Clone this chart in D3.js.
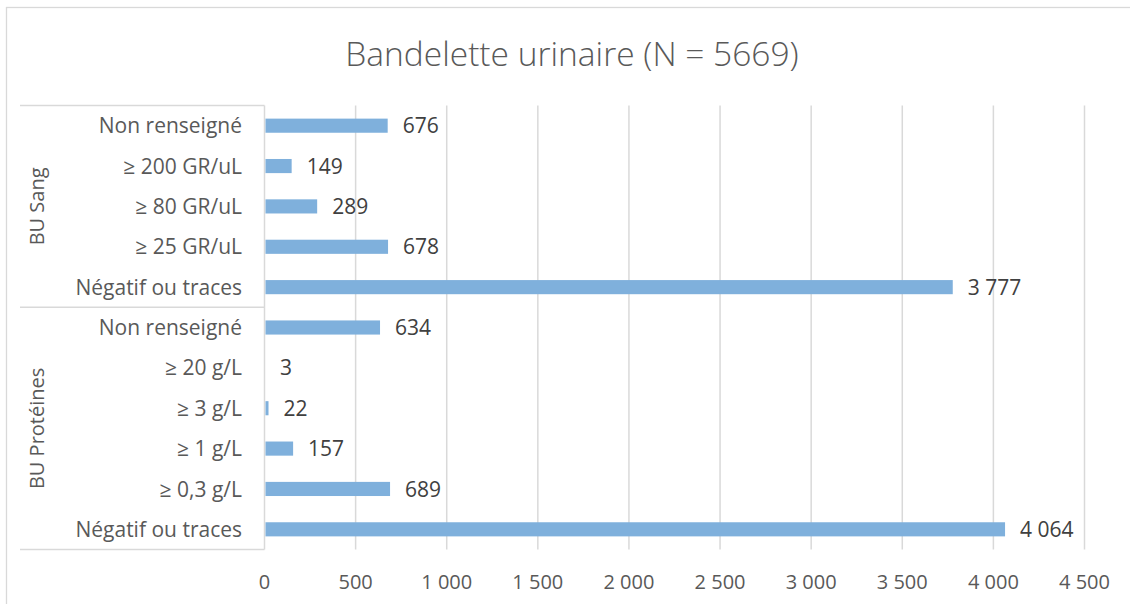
<!DOCTYPE html>
<html>
<head>
<meta charset="utf-8">
<script src="https://cdn.jsdelivr.net/npm/d3@7"></script>
<style>
  body { margin: 0; background: #fff; }
  text { font-family: "Open Sans", sans-serif; }
</style>
</head>
<body>
<svg id="chart" width="1130" height="604"></svg>
<script>
// data, top to bottom
var groups = ["BU Sang", "BU Protéines"];
var sangLabels = ["Non renseigné", "≥ 200 GR/uL", "≥ 80 GR/uL", "≥ 25 GR/uL", "Négatif ou traces"];
var sangValues = [676, 149, 289, 678, 3777];
var protLabels = ["Non renseigné", "≥ 20 g/L", "≥ 3 g/L", "≥ 1 g/L", "≥ 0,3 g/L", "Négatif ou traces"];
var protValues = [634, 3, 22, 157, 689, 4064];
var xTicks = [0, 500, 1000, 1500, 2000, 2500, 3000, 3500, 4000, 4500];

var rows = [];
sangLabels.forEach((l, i) => rows.push({ group: groups[0], label: l, value: sangValues[i], id: "s" + i }));
protLabels.forEach((l, i) => rows.push({ group: groups[1], label: l, value: protValues[i], id: "p" + i }));

var svg = d3.select("#chart");
var fr = d3.formatLocale({ decimal: ",", thousands: "\u00a0", grouping: [3], currency: ["", " €"] });
var fmt = fr.format(",d");

var plotLeft = 264.5, plotRight = 1084.5, plotTop = 105.5, plotBottom = 549.5;
var lineCol = "#d9d9d9";

// chart border
svg.append("rect")
    .attr("x", 6.5).attr("y", 7.5)
    .attr("width", 1140).attr("height", 620)
    .attr("fill", "#fff")
    .attr("stroke", lineCol)
    .attr("stroke-width", 1.3);

svg.append("text")
    .attr("x", 572).attr("y", 66)
    .attr("text-anchor", "middle")
    .attr("font-size", 33.5)
    .attr("font-weight", 300)
    .attr("fill", "#595959")
    .text("Bandelette urinaire (N = 5669)");

var x = d3.scaleLinear().domain([0, 4500]).range([plotLeft, plotRight]);
var y = d3.scaleBand().domain(rows.map(d => d.id)).range([plotTop, plotBottom]).paddingInner(0.65).paddingOuter(0.325);

// gridlines
svg.append("g").selectAll("line")
    .data(xTicks.slice(1))
    .enter().append("line")
    .attr("x1", d => x(d)).attr("x2", d => x(d))
    .attr("y1", plotTop).attr("y2", plotBottom)
    .attr("stroke", lineCol)
    .attr("stroke-width", 1.5);

// tick labels
svg.append("g").selectAll("text")
    .data(xTicks)
    .enter().append("text")
    .attr("x", d => x(d))
    .attr("y", 589)
    .attr("text-anchor", "middle")
    .attr("font-size", 20)
    .attr("fill", "#595959")
    .text(d => fmt(d));

// category box
var step = (plotBottom - plotTop) / rows.length;
var sepY = plotTop + sangLabels.length * step;
[plotTop, sepY, plotBottom].forEach(yy => {
    svg.append("line")
        .attr("x1", 20).attr("x2", plotLeft)
        .attr("y1", yy).attr("y2", yy)
        .attr("stroke", lineCol).attr("stroke-width", 1.5);
});
svg.append("line")
    .attr("x1", plotLeft).attr("x2", plotLeft)
    .attr("y1", plotTop).attr("y2", plotBottom)
    .attr("stroke", lineCol).attr("stroke-width", 1.5);

// bars
svg.append("g").selectAll("rect")
    .data(rows)
    .enter().append("rect")
    .attr("x", x(0) + 1)
    .attr("y", d => y(d.id))
    .attr("width", d => Math.max(0, x(d.value) - x(0) - 1))
    .attr("height", y.bandwidth())
    .attr("fill", "#7fb0dc");

// value labels
svg.append("g").selectAll("text")
    .data(rows)
    .enter().append("text")
    .attr("x", d => x(d.value) + 15)
    .attr("y", d => y(d.id) + y.bandwidth() / 2)
    .attr("dy", "0.36em")
    .attr("font-size", 21)
    .attr("fill", "#404040")
    .text(d => fmt(d.value));

// category labels
svg.append("g").selectAll("text")
    .data(rows)
    .enter().append("text")
    .attr("x", 242)
    .attr("y", d => y(d.id) + y.bandwidth() / 2)
    .attr("dy", "0.36em")
    .attr("text-anchor", "end")
    .attr("font-size", 21)
    .attr("fill", "#595959")
    .text(d => d.label);

// group labels
var groupSpans = [[plotTop, sepY], [sepY, plotBottom]];
svg.append("g").selectAll("text")
    .data(groups)
    .enter().append("text")
    .attr("transform", (d, i) => "translate(37," + ((groupSpans[i][0] + groupSpans[i][1]) / 2) + ") rotate(-90)")
    .attr("dy", "0.36em")
    .attr("text-anchor", "middle")
    .attr("font-size", 20)
    .attr("fill", "#595959")
    .text(d => d);
</script>
</body>
</html>
